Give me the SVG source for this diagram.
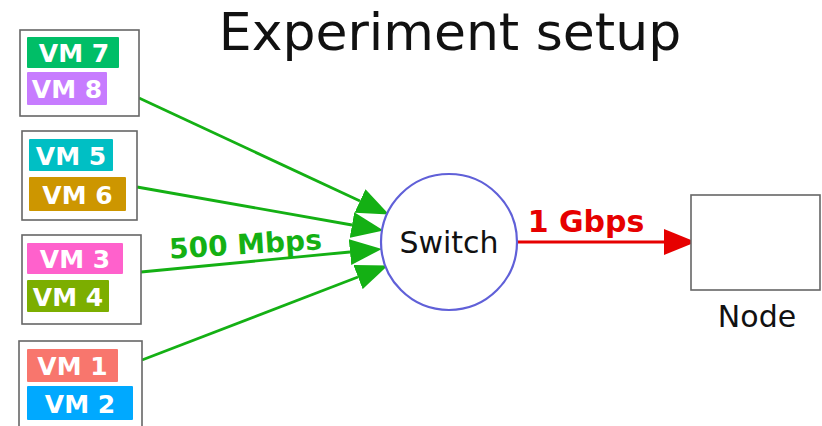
<svg xmlns="http://www.w3.org/2000/svg" width="822" height="426" viewBox="0 0 822 426">
<style>
.box{fill:#fff;stroke:#666;stroke-width:1.6}
.vm{font-family:"DejaVu Sans",sans-serif;font-weight:bold;font-size:25px;fill:#fff;text-anchor:middle}
.g{stroke:#14b014;stroke-width:2.8;fill:none}
.r{stroke:#e60000;stroke-width:2.8;fill:none}
.lbl{font-family:"DejaVu Sans",sans-serif;font-size:30px;fill:#111;text-anchor:middle}
</style>
<defs>
<marker id="ag" markerUnits="userSpaceOnUse" markerWidth="32" markerHeight="26" viewBox="0 0 32 26" refX="0" refY="13" orient="auto"><path d="M0,0 L32,13 L0,26 z" fill="#14b014"/></marker>
<marker id="ar" markerUnits="userSpaceOnUse" markerWidth="32" markerHeight="26" viewBox="0 0 32 26" refX="0" refY="13" orient="auto"><path d="M0,0 L32,13 L0,26 z" fill="#e60000"/></marker>
</defs>
<rect width="822" height="426" fill="#fff"/>
<text x="450" y="50" font-family="DejaVu Sans, sans-serif" font-size="52" text-anchor="middle" fill="#111">Experiment setup</text>

<g id="connectors">
<line class="g" x1="139" y1="98" x2="360" y2="201" marker-end="url(#ag)"/>
<line class="g" x1="137" y1="187" x2="352" y2="225" marker-end="url(#ag)"/>
<line class="g" x1="141" y1="272" x2="350" y2="252" marker-end="url(#ag)"/>
<line class="g" x1="142" y1="360" x2="358" y2="277" marker-end="url(#ag)"/>
<line class="r" x1="517" y1="242" x2="664" y2="242" marker-end="url(#ar)"/>
<text transform="translate(246,254) rotate(-3.5)" font-family="DejaVu Sans, sans-serif" font-weight="bold" font-size="28" fill="#14b014" text-anchor="middle">500 Mbps</text>
<text x="586" y="232" font-family="DejaVu Sans, sans-serif" font-weight="bold" font-size="30" fill="#e60000" text-anchor="middle">1 Gbps</text>
</g>

<g id="vm78">
<rect class="box" x="20" y="30" width="119" height="86"/>
<rect x="27" y="37" width="92" height="31" rx="1" fill="#00BE67"/>
<text class="vm" x="74" y="62">VM 7</text>
<rect x="27" y="72" width="80" height="33" rx="1" fill="#C77CFF"/>
<text class="vm" x="67" y="97.5">VM 8</text>
</g>
<g id="vm56">
<rect class="box" x="22" y="131" width="115" height="89"/>
<rect x="29" y="139" width="84" height="32" rx="1" fill="#00BFC4"/>
<text class="vm" x="71" y="164.5">VM 5</text>
<rect x="29" y="177" width="97" height="34" rx="1" fill="#CD9600"/>
<text class="vm" x="77.5" y="203.5">VM 6</text>
</g>
<g id="vm34">
<rect class="box" x="22" y="235" width="119" height="89"/>
<rect x="27" y="243" width="96" height="31" rx="1" fill="#FF61CC"/>
<text class="vm" x="75" y="268">VM 3</text>
<rect x="27" y="280" width="82" height="32" rx="1" fill="#7CAE00"/>
<text class="vm" x="68" y="305.5">VM 4</text>
</g>
<g id="vm12">
<rect class="box" x="19" y="341" width="123" height="95"/>
<rect x="27" y="349" width="91" height="33" rx="1" fill="#F8766D"/>
<text class="vm" x="72.5" y="375">VM 1</text>
<rect x="27" y="386" width="106" height="34" rx="1" fill="#00A9FF"/>
<text class="vm" x="80" y="412.5">VM 2</text>
</g>
<g id="switch">
<circle cx="449" cy="242" r="68" fill="#fff" stroke="#6060d8" stroke-width="2.2"/>
<text class="lbl" x="449" y="253">Switch</text>
</g>
<g id="node">
<rect class="box" x="691" y="195" width="129" height="95"/>
<text class="lbl" x="757" y="327" font-size="31">Node</text>
</g>
</svg>
